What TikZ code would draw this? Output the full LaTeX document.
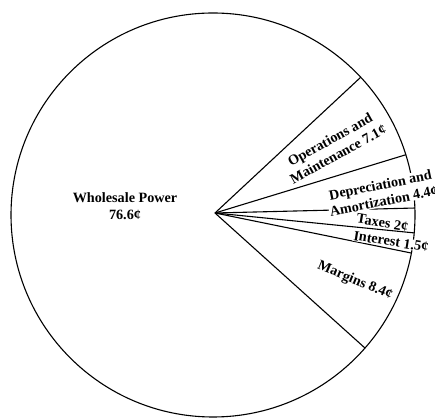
\documentclass[tikz,border=0pt]{standalone}
\usepackage{fontspec}
\setmainfont{Liberation Serif}
\usetikzlibrary{positioning, calc}

\begin{document}
\begin{tikzpicture}[
    x=1pt, y=1pt,
    line width=1.1pt,        % 線を少し太めに
    slicetext/.style={font=\bfseries\fontsize{14.2}{16.5}\selectfont, align=center, inner sep=0.5pt}
]
    \useasboundingbox (0,0) rectangle (435,419);

    % --- 1. 円の描画 ---
    \coordinate (center) at (213,204);
    \coordinate (apex) at (215,206);   % 扇形の頂点（円の中心から少しずれている）
    \draw (center) circle [radius=202];

    % --- 2. 扇形の境界線 ---
    \foreach \ang/\name in {43.0/om, 17.35/dep, 1.98/tax, -5.09/int, -10.86/mar, -41.2/whl} {
        \coordinate (\name) at ($(center)+(\ang:202)$);
        \draw (apex) -- (\name);
    }

    % --- 3. ラベル ---
    \node [slicetext] (wholesale) at (125,213) {Wholesale Power\\76.6¢};
    \node [slicetext, rotate=29] (opmaint) at (334,272) {Operations and\\Maintenance 7.1¢};
    \node [slicetext, rotate=11.5, fill=white] (deprec) at (382,226) {Depreciation and\\Amortization 4.4¢};
    \node [slicetext, rotate=-9.5] (taxes) at (382.5,196.5) {Taxes 2¢};
    \node [slicetext, rotate=-9, fill=white] (interest) at (391,177.5) {Interest 1.5¢};
    \node [slicetext, rotate=-22.5] (margins) at (355,138) {Margins 8.4¢};

\end{tikzpicture}
\end{document}
